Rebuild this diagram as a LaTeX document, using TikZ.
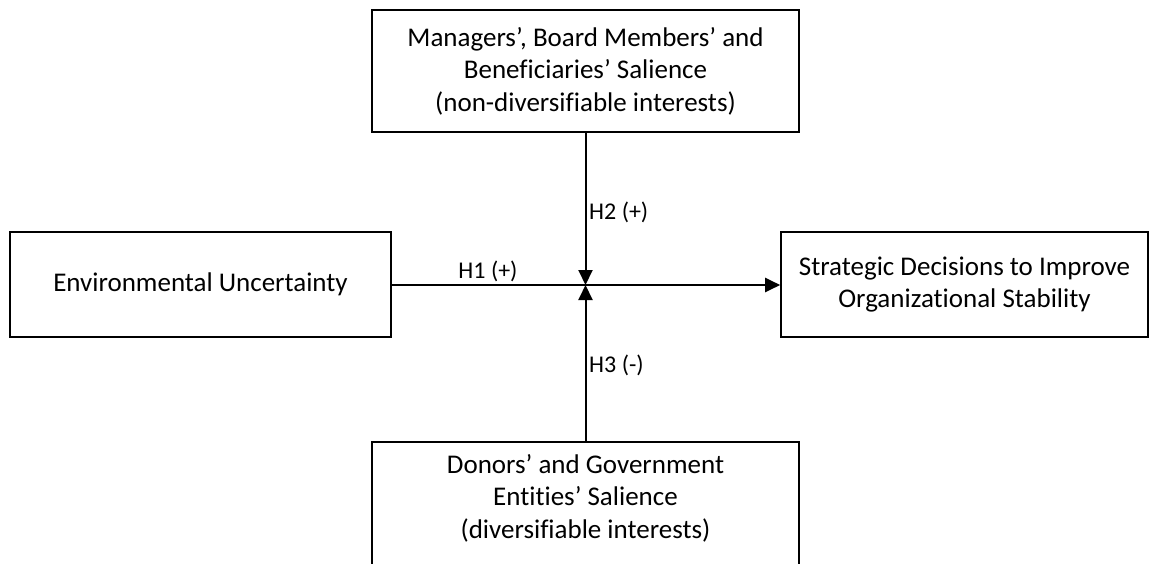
\documentclass[tikz,border=0pt]{standalone}
\usepackage{fontspec}
\setmainfont[Ligatures={NoCommon,TeX}]{Carlito}
\usetikzlibrary{arrows.meta}
\begin{document}
\begin{tikzpicture}[x=1pt,y=-1pt,
  box/.style={draw, line width=1.6pt, inner sep=0pt, align=center,
    font=\fontsize{27}{32.5}\selectfont},
  conn/.style={line width=2pt, -{Triangle[length=15pt,width=14pt]}},
  lab/.style={inner sep=0pt, font=\fontsize{24}{32}\selectfont}]
\useasboundingbox (0,0) rectangle (1159,564);
\node[box, minimum width=427pt, minimum height=122pt] (mgr) at (585.5,71)
  {Managers’, Board Members’ and\\Beneficiaries’ Salience\\(non-diversifiable interests)};
\node[box, minimum width=381pt, minimum height=105pt] (env) at (200.5,284.5)
  {Environmental Uncertainty};
\node[box, minimum width=367pt, minimum height=105pt] (str) at (964.5,284.5)
  {Strategic Decisions to Improve\\Organizational Stability};
\node[box, minimum width=427pt, minimum height=170pt, anchor=north] (don) at (585.5,441) {};
\node[inner sep=0pt, align=center, font=\fontsize{27}{32.5}\selectfont] (dontxt) at (585.5,498)
  {Donors’ and Government\\Entities’ Salience\\(diversifiable interests)};
\coordinate (c) at (585.5,285);
\draw[conn] (env.east |- c) -- (str.west |- c);
\draw[conn] (mgr.south) -- (c);
\draw[conn] (don.north) -- (c);
\node[lab] (h1) at (488,271) {H1 (+)};
\node[lab, anchor=west] (h2) at (589,212) {H2 (+)};
\node[lab, anchor=west] (h3) at (589,365) {H3 (-)};
\end{tikzpicture}
\end{document}
